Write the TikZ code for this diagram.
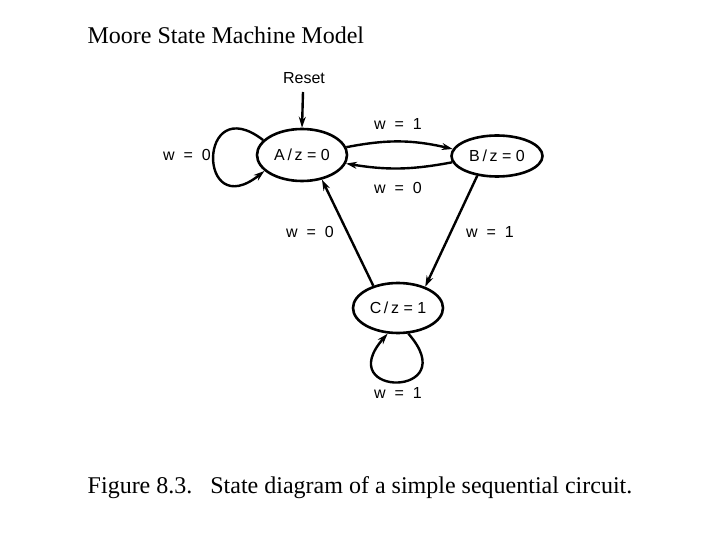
\documentclass[tikz,border=0pt]{standalone}
\usepackage{fontspec}
\setmainfont{Liberation Serif}
\setsansfont{Liberation Sans}
\usetikzlibrary{shapes.geometric,arrows.meta}

\begin{document}
\begin{tikzpicture}[x=1pt,y=-1pt,
    state/.style={draw,ellipse,line width=2.6pt,inner sep=0pt,font=\sffamily\fontsize{16}{16}\selectfont},
    arr/.style={line width=2.4pt,-{Stealth[length=11pt,width=7pt]}},
    lbl/.style={font=\sffamily\fontsize{16}{16}\selectfont}]
  \useasboundingbox (0,0) rectangle (720,540);
  \node[anchor=west,font=\fontsize{24}{24}\selectfont] (title) at (84,35) {Moore State Machine Model};
  % states
  \node[state,minimum width=90pt,minimum height=52pt] (A) at (302,155) {A\,/\,z = 0};
  \node[state,minimum width=91pt,minimum height=41pt] (B) at (497,156) {B\,/\,z = 0};
  \node[state,minimum width=90pt,minimum height=50pt] (C) at (398,308) {C\,/\,z = 1};
  \node[lbl] (reset) at (304,78) {Reset};
  \coordinate (rs) at (303,92);
  % transitions
  \draw[arr] (rs) -- (A.north);
  \draw[arr] (A.10) to[bend left=12] (B.171);
  \draw[arr] (B.188) to[bend left=10] (A.349);
  \draw[arr] (A.159) .. controls (197,89) and (197,225) .. (A.203);
  \draw[arr] (C.138) -- (A.309);
  \draw[arr] (B.225) -- (C.38);
  \draw[arr] (C.292) .. controls (465,398) and (331,398) .. (C.248);
  % labels
  \node[lbl] (l1) at (398,124) {w\ \ =\ \ 1};
  \node[lbl] (l2) at (398,188) {w\ \ =\ \ 0};
  \node[lbl] (l3) at (187,155) {w\ \ =\ \ 0};
  \node[lbl] (l4) at (310,232) {w\ \ =\ \ 0};
  \node[lbl] (l5) at (490,232) {w\ \ =\ \ 1};
  \node[lbl] (l6) at (398,393) {w\ \ =\ \ 1};
  \node[font=\fontsize{24}{24}\selectfont] (caption) at (360,488) {Figure 8.3.\ \ \ State diagram of a simple sequential circuit.};
\end{tikzpicture}
\end{document}
